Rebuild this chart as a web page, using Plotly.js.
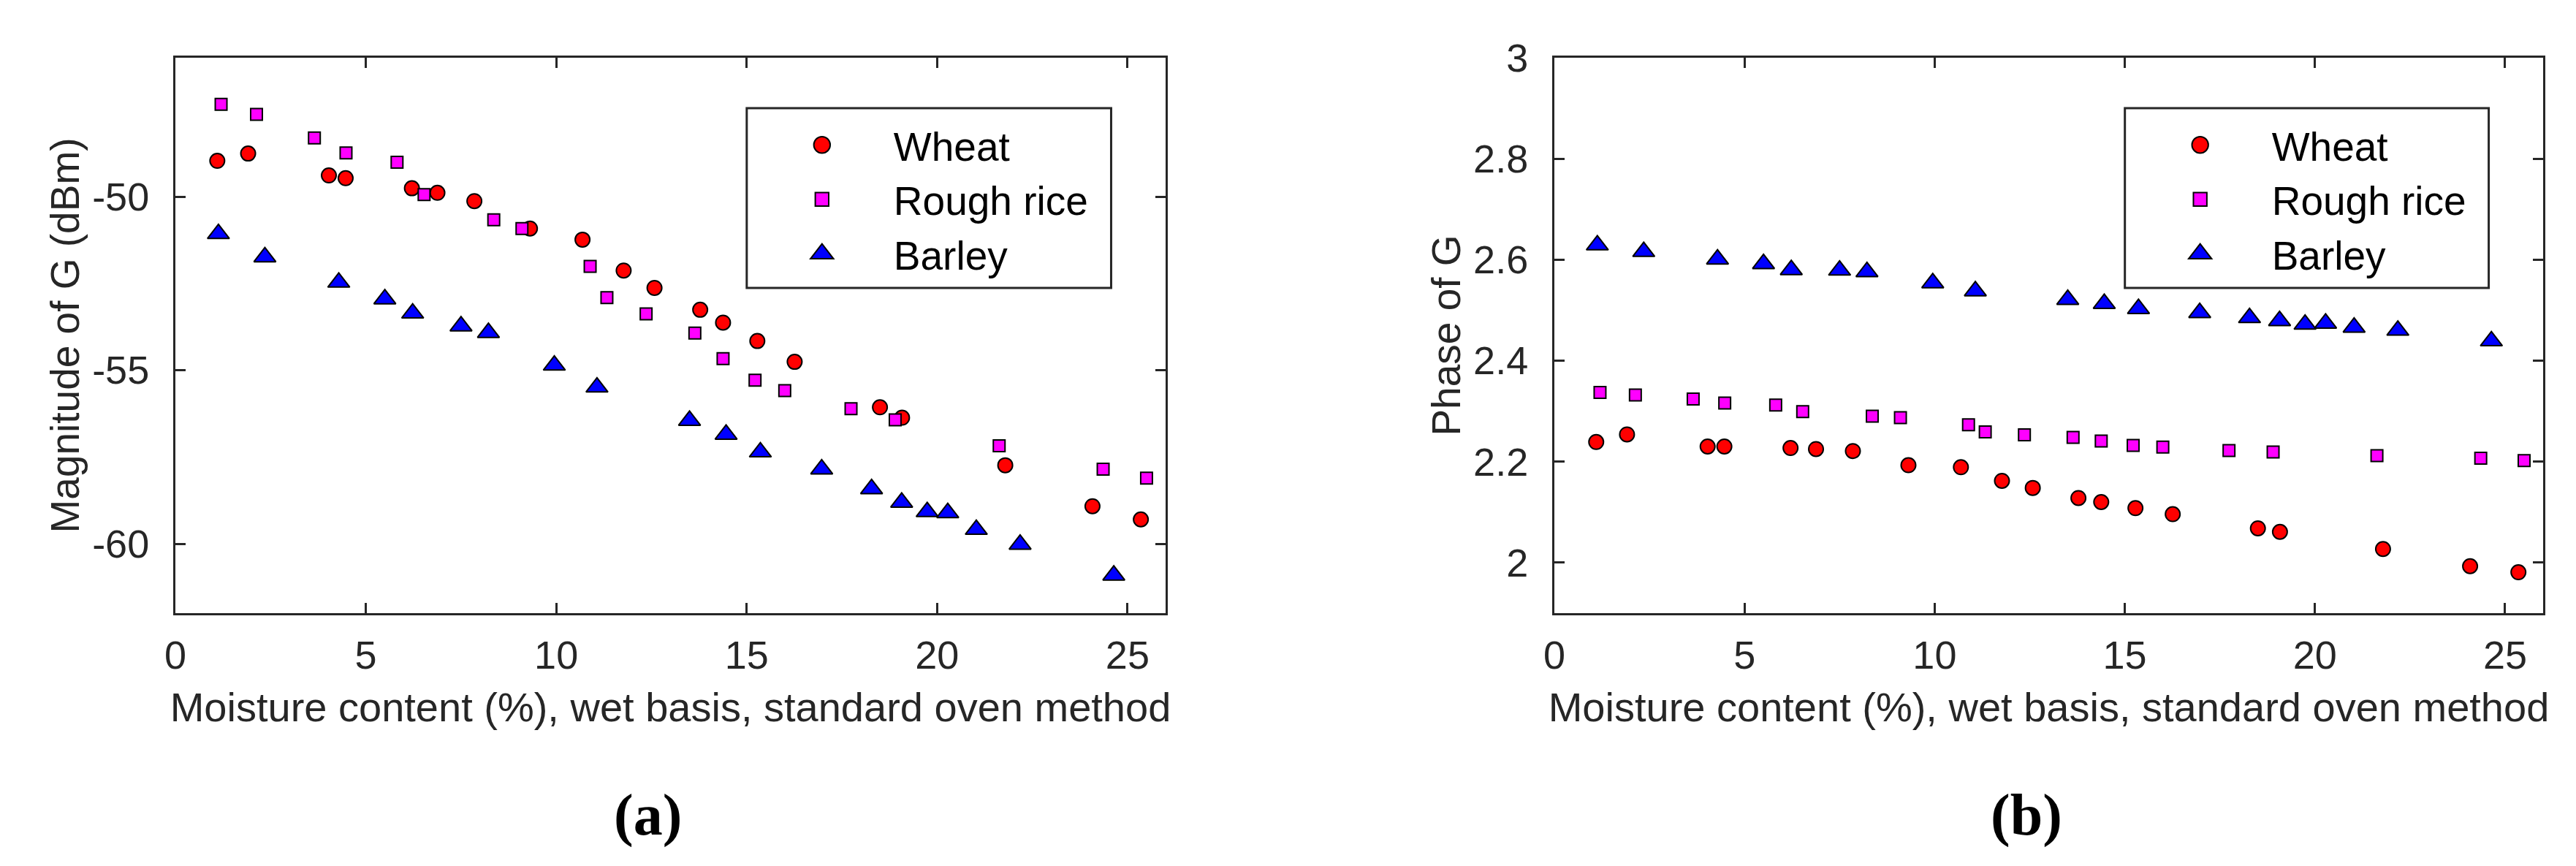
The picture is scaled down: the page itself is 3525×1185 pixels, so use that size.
<!DOCTYPE html>
<html>
<head>
<meta charset="utf-8">
<script src="https://cdn.plot.ly/plotly-3.0.1.min.js"></script>
<style>
  body { margin: 0; background: #fff; }
  #chart { width: 3525px; height: 1185px; }
</style>
</head>
<body>
<div id="chart"></div>
<script>
// Microwave sensor readings vs. moisture content, three grains

var names = ['Wheat', 'Rough rice', 'Barley'];

var wheatX = [1.10, 1.91, 4.03, 4.47, 6.21, 6.88, 7.85, 9.31, 10.69, 11.77, 12.58, 13.78, 14.38, 15.28, 16.26, 18.50, 19.08, 21.79, 24.08, 25.35];
var wheatMag = [-48.97, -48.76, -49.39, -49.47, -49.76, -49.89, -50.13, -50.92, -51.24, -52.13, -52.63, -53.26, -53.63, -54.16, -54.76, -56.07, -56.37, -57.74, -58.92, -59.30];
var wheatPhase = [2.239, 2.254, 2.230, 2.230, 2.227, 2.225, 2.221, 2.193, 2.189, 2.162, 2.148, 2.128, 2.120, 2.108, 2.096, 2.068, 2.061, 2.027, 1.993, 1.981];

var riceX = [1.20, 2.13, 3.65, 4.48, 5.82, 6.53, 8.36, 9.10, 10.89, 11.33, 12.36, 13.64, 14.38, 15.22, 16.00, 17.74, 18.90, 21.63, 24.36, 25.50];
var riceMag = [-47.34, -47.63, -48.31, -48.74, -49.01, -49.94, -50.67, -50.92, -52.01, -52.91, -53.38, -53.93, -54.67, -55.29, -55.59, -56.11, -56.43, -57.18, -57.85, -58.11];
var ricePhase = [2.337, 2.332, 2.324, 2.316, 2.312, 2.299, 2.290, 2.287, 2.273, 2.259, 2.253, 2.248, 2.241, 2.232, 2.229, 2.222, 2.219, 2.212, 2.207, 2.202];

var barleyX = [1.13, 2.35, 4.29, 5.50, 6.23, 7.50, 8.22, 9.95, 11.07, 13.50, 14.46, 15.36, 16.97, 18.28, 19.07, 19.74, 20.28, 21.03, 22.18, 24.64];
var barleyMag = [-51.07, -51.74, -52.47, -52.95, -53.36, -53.73, -53.92, -54.86, -55.49, -56.45, -56.85, -57.36, -57.85, -58.42, -58.81, -59.08, -59.11, -59.59, -60.02, -60.91];
var barleyPhase = [2.629, 2.616, 2.601, 2.592, 2.580, 2.579, 2.576, 2.554, 2.538, 2.521, 2.513, 2.503, 2.495, 2.485, 2.479, 2.472, 2.474, 2.466, 2.460, 2.439];

// magnitude ticks use a plain hyphen, like the original
var magTicks = [-60, -55, -50];
var magTickText = ['-60', '-55', '-50'];

var xTitle = 'Moisture content (%), wet basis, standard oven method';
var panelLabels = ['(a)', '(b)'];

var W = 3525, H = 1185;
var ink = '#262626';
var sans = 'Liberation Sans, Arial, sans-serif';

var markers = [
  {symbol: 'circle', size: 20, color: '#ff0000', line: {color: '#000', width: 2}},
  {symbol: 'square', size: 16, color: '#ff00ff', line: {color: '#000', width: 2}},
  {symbol: 'triangle-up', size: 26, color: '#0000ff', line: {color: '#000', width: 2}},
];
// plotly caps legend symbols at 16px, these get them back to plot size
var legendScale = [1.4, 1.15, 1.7];

function trace(i, x, y, xa, ya, leg) {
  return {
    x: x, y: y, name: names[i],
    xaxis: xa, yaxis: ya, legend: leg,
    type: 'scatter', mode: 'markers',
    marker: markers[i],
  };
}

var data = [
  trace(0, wheatX, wheatMag, 'x', 'y', 'legend'),
  trace(1, riceX, riceMag, 'x', 'y', 'legend'),
  trace(2, barleyX, barleyMag, 'x', 'y', 'legend'),
  trace(0, wheatX, wheatPhase, 'x2', 'y2', 'legend2'),
  trace(1, riceX, ricePhase, 'x2', 'y2', 'legend2'),
  trace(2, barleyX, barleyPhase, 'x2', 'y2', 'legend2'),
];

// plot frames in pixels, turned into paper fractions
var frameA = [240, 1595], frameB = [2127, 3480];
var frameY = [79, 839];
function px(v) { return v / W; }
function py(v) { return 1 - v / H; }

function xaxis(dom) {
  return {
    domain: [px(dom[0]), px(dom[1])],
    range: [0, 26], dtick: 5, tick0: 0,
    ticks: 'inside', ticklen: 14, tickwidth: 3, tickcolor: ink,
    showline: true, linecolor: ink, linewidth: 3, mirror: 'ticks',
    showgrid: false, zeroline: false,
    tickfont: {family: sans, size: 54, color: ink},
    ticklabelstandoff: 8,
    title: {text: xTitle, font: {family: sans, size: 56, color: ink}, standoff: 24},
    fixedrange: true,
  };
}

function yaxis(anchor, range, dtick, title) {
  return {
    anchor: anchor,
    domain: [py(frameY[1]), py(frameY[0])],
    range: range, dtick: dtick,
    ticks: 'inside', ticklen: 14, tickwidth: 3, tickcolor: ink,
    showline: true, linecolor: ink, linewidth: 3, mirror: 'ticks',
    showgrid: false, zeroline: false,
    tickfont: {family: sans, size: 54, color: ink},
    ticklabelstandoff: 22,
    title: {text: title, font: {family: sans, size: 55, color: ink}, standoff: 0},
    fixedrange: true,
  };
}

function legend(frame) {
  return {
    x: px(frame[0] + 0.577 * (frame[1] - frame[0]) + 5), xanchor: 'left',
    y: py(156), yanchor: 'top',
    bgcolor: 'rgba(0,0,0,0)', borderwidth: 0,
    font: {family: sans, size: 55, color: '#000'},
    itemwidth: 186,
    tracegroupgap: 0,
  };
}

function legendBox(frame) {
  var w = frame[1] - frame[0];
  return {
    type: 'rect', xref: 'paper', yref: 'paper',
    x0: px(frame[0] + 0.577 * w), x1: px(frame[0] + 0.945 * w),
    y0: py(394), y1: py(148),
    line: {color: ink, width: 3}, fillcolor: '#fff', layer: 'below',
  };
}

function panelLabel(text, frame) {
  return {
    text: text, xref: 'paper', yref: 'paper',
    x: px(frame[0] + 646), y: py(1115),
    xanchor: 'center', yanchor: 'middle', showarrow: false,
    font: {family: 'Liberation Serif, Times New Roman, serif', size: 80, color: '#000', weight: 'bold'},
  };
}

var yMag = yaxis('x', [-62, -46], 5, 'Magnitude of G (dBm)');
yMag.tickmode = 'array';
yMag.tickvals = magTicks;
yMag.ticktext = magTickText;

var layout = {
  width: W, height: H,
  margin: {l: 0, r: 0, t: 0, b: 0},
  paper_bgcolor: '#fff', plot_bgcolor: '#fff',
  showlegend: true,
  xaxis: Object.assign(xaxis(frameA), {anchor: 'y'}),
  yaxis: yMag,
  xaxis2: Object.assign(xaxis(frameB), {anchor: 'y2'}),
  yaxis2: yaxis('x2', [1.9, 3], 0.2, 'Phase of G'),
  legend: legend(frameA),
  legend2: legend(frameB),
  shapes: [legendBox(frameA), legendBox(frameB)],
  annotations: [panelLabel(panelLabels[0], frameA), panelLabel(panelLabels[1], frameB)],
};

var config = {displayModeBar: false, responsive: false, staticPlot: true};

Plotly.newPlot('chart', data, layout, config).then(function (gd) {
  // legend items of both legends, in trace order
  var items = gd.querySelectorAll('g.traces');
  items.forEach(function (g, k) {
    var s = legendScale[k % 3];
    g.querySelectorAll('.legendpoints path.scatterpts').forEach(function (p) {
      var t = p.getAttribute('transform') || '';
      p.setAttribute('transform', t + ' scale(' + s + ')');
      p.style.strokeWidth = (2 / s) + 'px';
    });
  });
});
</script>
</body>
</html>
